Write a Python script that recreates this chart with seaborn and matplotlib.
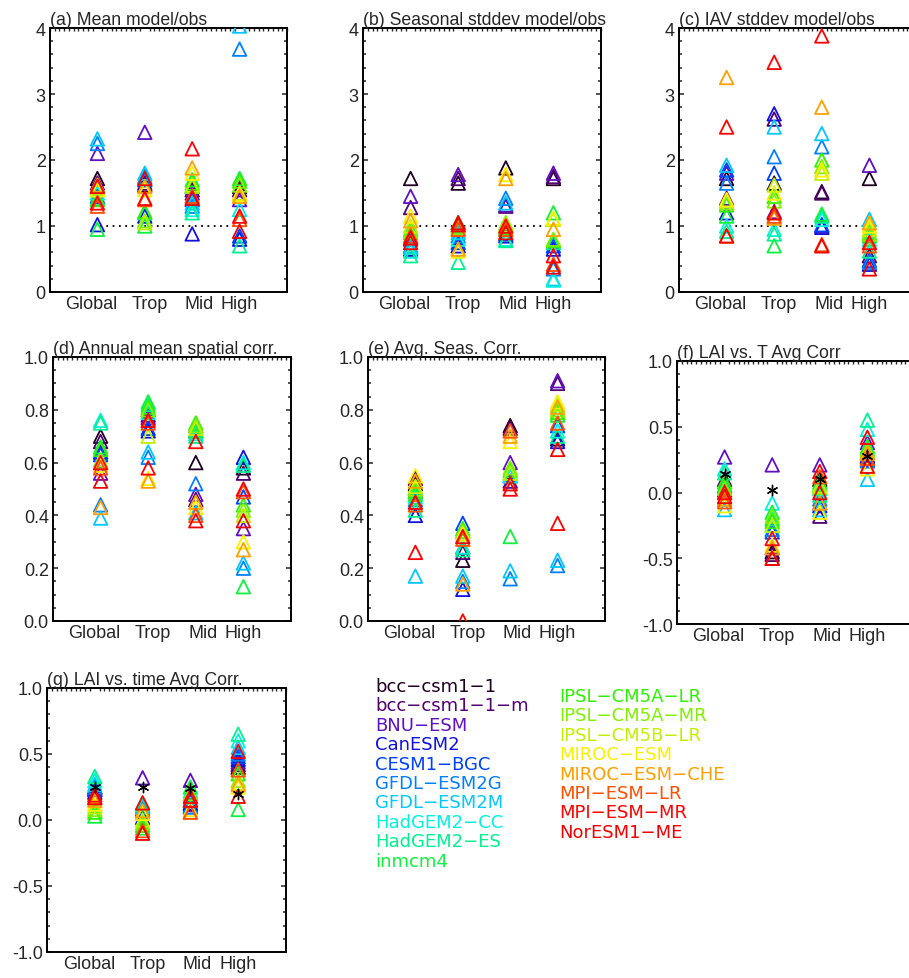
import numpy as np
import pandas as pd
import matplotlib
matplotlib.use("Agg")
import matplotlib.pyplot as plt
from matplotlib.ticker import MultipleLocator, FixedLocator, NullFormatter
from matplotlib.transforms import ScaledTranslation
import seaborn as sns

MODELS = ["bcc-csm1-1", "bcc-csm1-1-m", "BNU-ESM", "CanESM2", "CESM1-BGC",
          "GFDL-ESM2G", "GFDL-ESM2M", "HadGEM2-CC", "HadGEM2-ES", "inmcm4",
          "IPSL-CM5A-LR", "IPSL-CM5A-MR", "IPSL-CM5B-LR", "MIROC-ESM",
          "MIROC-ESM-CHE", "MPI-ESM-LR", "MPI-ESM-MR", "NorESM1-ME"]
MODEL_COLORS = ["#200020", "#500070", "#6010c0", "#1010e0", "#0040ff",
                "#0080ff", "#00c8ff", "#00f0e0", "#00f090", "#10f040",
                "#30f000", "#80f000", "#c0f000", "#f8f000", "#ffa000",
                "#ff5000", "#ff0000", "#f00000"]
REGIONS = ["Global", "Trop", "Mid", "High"]

# one value per model (MODELS order) for each region
MEAN_RATIO = {
    "Global": [1.72, 1.65, 2.1, 1.02, 1.45, 2.25, 2.32, 1.5, 1.42, 0.95, 1.4, 1.55, 1.58, 1.55, 1.62, 1.3, 1.35, 1.6],
    "Trop": [1.62, 1.65, 2.42, 1.15, 1.7, 1.75, 1.8, 1.72, 1.2, 1.0, 1.22, 1.08, 1.05, 1.55, 1.6, 1.4, 1.42, 1.72],
    "Mid": [1.6, 1.55, 1.5, 0.88, 1.4, 1.3, 1.35, 1.25, 1.2, 1.7, 1.65, 1.6, 1.62, 1.8, 1.88, 1.45, 2.17, 1.42],
    "High": [1.6, 1.55, 1.4, 0.8, 0.85, 3.68, 4.03, 1.25, 0.7, 1.72, 1.68, 1.62, 1.5, 1.48, 1.45, 1.1, 1.15, 0.92],
}
SEAS_STD_RATIO = {
    "Global": [1.72, 1.28, 1.45, 0.65, 0.8, 0.7, 0.68, 0.62, 0.55, 0.9, 0.95, 0.92, 1.0, 1.15, 1.08, 0.85, 0.75, 0.82],
    "Trop": [1.65, 1.72, 1.78, 0.7, 0.75, 0.85, 0.9, 0.8, 0.45, 1.05, 1.0, 0.98, 0.95, 0.62, 0.65, 0.95, 1.02, 1.05],
    "Mid": [1.88, 1.3, 1.32, 0.85, 0.88, 1.42, 1.35, 0.8, 0.78, 0.95, 0.98, 1.05, 1.02, 1.78, 1.72, 0.95, 1.0, 0.9],
    "High": [1.72, 1.75, 1.8, 0.65, 0.7, 0.35, 0.2, 0.18, 0.75, 1.2, 0.78, 0.8, 1.1, 1.12, 0.95, 0.42, 0.55, 0.38],
}
IAV_STD_RATIO = {
    "Global": [1.72, 1.42, 1.8, 1.2, 1.85, 1.65, 1.92, 1.0, 0.92, 1.15, 1.32, 1.35, 1.38, 1.4, 3.25, 0.85, 2.5, 0.85],
    "Trop": [1.65, 2.62, 1.22, 2.7, 1.8, 2.05, 2.5, 0.95, 0.88, 0.7, 1.45, 1.38, 1.62, 1.5, 1.12, 1.15, 3.48, 1.2],
    "Mid": [1.52, 1.5, 1.0, 0.98, 1.02, 2.2, 2.4, 1.1, 1.15, 1.18, 2.0, 1.9, 1.8, 1.85, 2.8, 0.72, 3.88, 0.7],
    "High": [1.72, 0.55, 1.92, 0.42, 0.48, 0.45, 1.1, 0.8, 0.62, 0.85, 0.9, 0.88, 0.95, 1.0, 1.05, 0.7, 0.75, 0.35],
}
SPATIAL_CORR = {
    "Global": [0.7, 0.68, 0.56, 0.64, 0.63, 0.44, 0.39, 0.76, 0.75, 0.66, 0.65, 0.61, 0.6, 0.59, 0.43, 0.58, 0.6, 0.53],
    "Trop": [0.8, 0.78, 0.77, 0.72, 0.73, 0.62, 0.64, 0.79, 0.82, 0.83, 0.81, 0.8, 0.7, 0.54, 0.53, 0.75, 0.58, 0.76],
    "Mid": [0.6, 0.46, 0.48, 0.72, 0.74, 0.52, 0.41, 0.71, 0.7, 0.72, 0.75, 0.74, 0.73, 0.43, 0.45, 0.4, 0.68, 0.38],
    "High": [0.58, 0.56, 0.35, 0.62, 0.47, 0.2, 0.22, 0.6, 0.59, 0.13, 0.44, 0.42, 0.4, 0.3, 0.27, 0.49, 0.5, 0.38],
}
SEAS_CORR = {
    "Global": [0.52, 0.54, 0.5, 0.4, 0.49, 0.46, 0.17, 0.47, 0.42, 0.48, 0.49, 0.5, 0.51, 0.55, 0.53, 0.44, 0.26, 0.45],
    "Trop": [0.23, 0.26, 0.28, 0.12, 0.37, 0.15, 0.17, 0.28, 0.27, 0.34, 0.35, 0.34, 0.33, 0.33, 0.14, 0.31, 0.0, 0.32],
    "Mid": [0.74, 0.73, 0.6, 0.53, 0.55, 0.16, 0.19, 0.55, 0.56, 0.32, 0.57, 0.58, 0.56, 0.68, 0.7, 0.72, 0.5, 0.52],
    "High": [0.69, 0.9, 0.91, 0.68, 0.74, 0.21, 0.23, 0.72, 0.7, 0.78, 0.79, 0.8, 0.82, 0.83, 0.81, 0.75, 0.37, 0.65],
}
LAI_T_CORR = {
    "Global": [0.05, 0.1, 0.27, 0.02, 0.0, -0.05, -0.13, 0.18, 0.15, 0.05, 0.08, 0.03, 0.0, -0.1, -0.05, -0.07, 0.0, -0.03],
    "Trop": [-0.45, -0.47, 0.21, -0.42, -0.3, -0.28, -0.25, -0.08, -0.2, -0.15, -0.22, -0.18, -0.25, -0.4, -0.42, -0.5, -0.35, -0.5],
    "Mid": [0.1, -0.18, 0.21, -0.1, -0.08, -0.05, -0.13, 0.03, -0.02, 0.08, 0.06, 0.04, 0.05, -0.15, -0.08, 0.12, 0.16, 0.0],
    "High": [0.27, 0.3, 0.38, 0.28, 0.25, 0.24, 0.1, 0.48, 0.55, 0.35, 0.33, 0.32, 0.3, 0.18, 0.3, 0.26, 0.42, 0.2],
}
LAI_T_CORR_MEAN = [0.14, 0.02, 0.1, 0.28]
LAI_TIME_CORR = {
    "Global": [0.25, 0.24, 0.23, 0.21, 0.23, 0.25, 0.27, 0.3, 0.33, 0.03, 0.06, 0.08, 0.1, 0.12, 0.15, 0.17, 0.19, 0.17],
    "Trop": [0.1, 0.08, 0.32, 0.02, 0.05, 0.07, 0.1, 0.13, 0.12, -0.06, -0.04, -0.02, 0.0, 0.05, 0.07, -0.08, 0.13, -0.1],
    "Mid": [0.15, 0.12, 0.3, 0.13, 0.1, 0.1, 0.17, 0.22, 0.15, 0.25, 0.2, 0.2, 0.18, 0.08, 0.06, 0.06, 0.18, 0.15],
    "High": [0.4, 0.42, 0.44, 0.46, 0.48, 0.5, 0.55, 0.6, 0.65, 0.08, 0.35, 0.3, 0.28, 0.25, 0.27, 0.38, 0.52, 0.18],
}
LAI_TIME_CORR_MEAN = [0.25, 0.25, 0.24, 0.2]
RATIO_REF = 1.0

W, H = 909, 979
LABEL_SHIFT_PX = [-6, 5, 7, 0]

sns.set_style("ticks")
plt.rcParams["font.family"] = ["Liberation Sans", "DejaVu Sans"]


def to_long(table):
    rows = []
    for i, reg in enumerate(REGIONS):
        for m, v in zip(MODELS, table[reg]):
            rows.append({"pos": i + 1, "model": m, "value": v})
    return pd.DataFrame(rows)


def draw_panel(fig, rect_px, title, table, ylim, major, minor, fmt,
               ref=None, means=None):
    left, top, right, bottom = rect_px
    ax = fig.add_axes([left / W, 1 - bottom / H, (right - left) / W, (bottom - top) / H])
    df = to_long(table)
    sns.scatterplot(data=df, x="pos", y="value", hue="model", hue_order=MODELS,
                    palette=dict(zip(MODELS, MODEL_COLORS)), marker="^", s=95,
                    legend=False, ax=ax, zorder=3)
    coll = ax.collections[-1]
    fc = coll.get_facecolors()
    coll.set_edgecolors(fc)
    coll.set_facecolors("none")
    coll.set_linewidths(1.3)
    if ref is not None:
        ax.hlines(ref, 1.05, 4.15, colors="black", linestyles=(0, (1, 2.5)), lw=1.3, zorder=2)
    if means is not None:
        mdf = pd.DataFrame({"pos": np.arange(1, 5), "value": means})
        sns.scatterplot(data=mdf, x="pos", y="value", marker=(6, 2, 0), s=55,
                        color="black", linewidth=1.0, ax=ax, zorder=4)
    ax.set_xlim(0, 5)
    ax.set_ylim(*ylim)
    ax.xaxis.set_major_locator(FixedLocator([1, 2, 3, 4]))
    ax.xaxis.set_major_formatter(NullFormatter())
    # region names, nudged sideways like the original IDL layout
    base = ax.get_xaxis_transform()
    for i, (reg, dx) in enumerate(zip(REGIONS, LABEL_SHIFT_PX)):
        tr = base + ScaledTranslation(dx / 100, -3 / 100, fig.dpi_scale_trans)
        ax.text(i + 1, 0, reg, transform=tr, ha="center", va="top", fontsize=13)
    ax.xaxis.set_minor_locator(MultipleLocator(0.1))
    ax.yaxis.set_major_locator(MultipleLocator(major))
    ax.yaxis.set_minor_locator(MultipleLocator(minor))
    ticks = ax.get_yticks()
    ticks = [t for t in ticks if ylim[0] - 1e-9 <= t <= ylim[1] + 1e-9]
    ax.set_yticks(ticks)
    ax.set_yticklabels([fmt.format(t) for t in ticks], fontsize=13)
    ax.tick_params(axis="y", which="both", direction="in", left=True, right=True, width=1.1)
    ax.tick_params(axis="y", which="major", length=3.6, pad=3)
    ax.tick_params(axis="y", which="minor", length=2)
    ax.tick_params(axis="x", which="major", bottom=False, top=False)
    ax.tick_params(axis="x", which="minor", bottom=False, top=True, direction="in",
                   length=2, width=1.0)
    ax.set_xlabel("")
    ax.set_ylabel("")
    for sp in ax.spines.values():
        sp.set_linewidth(1.4)
        sp.set_color("black")
    ax.set_title(title, loc="left", fontsize=12.7, pad=3)
    return ax


def main():
    fig = plt.figure(figsize=(W / 100, H / 100), dpi=100)

    draw_panel(fig, (50, 29, 287, 293), "(a) Mean model/obs", MEAN_RATIO,
               (0, 4), 1, 0.2, "{:.0f}", ref=RATIO_REF)
    draw_panel(fig, (363, 29, 601, 293), "(b) Seasonal stddev model/obs", SEAS_STD_RATIO,
               (0, 4), 1, 0.2, "{:.0f}", ref=RATIO_REF)
    draw_panel(fig, (679, 29, 917, 293), "(c) IAV stddev model/obs", IAV_STD_RATIO,
               (0, 4), 1, 0.2, "{:.0f}", ref=RATIO_REF)
    draw_panel(fig, (53, 358, 291, 622), "(d) Annual mean spatial corr.", SPATIAL_CORR,
               (0, 1), 0.2, 0.05, "{:.1f}")
    draw_panel(fig, (368, 358, 605, 622), "(e) Avg. Seas. Corr.", SEAS_CORR,
               (0, 1), 0.2, 0.05, "{:.1f}")
    draw_panel(fig, (677, 362, 915, 625), "(f) LAI vs. T Avg Corr", LAI_T_CORR,
               (-1, 1), 0.5, 0.1, "{:.1f}", means=LAI_T_CORR_MEAN)
    draw_panel(fig, (47, 689, 286, 953), "(g) LAI vs. time Avg Corr.", LAI_TIME_CORR,
               (-1, 1), 0.5, 0.1, "{:.1f}", means=LAI_TIME_CORR_MEAN)

    # model legend as coloured text in two columns
    split = 10
    for i, (name, col) in enumerate(zip(MODELS, MODEL_COLORS)):
        if i < split:
            x, y = 375, 687 + i * 19.4
        else:
            x, y = 559, 697 + (i - split) * 19.4
        fig.text(x / W, 1 - y / H, name.replace("-", "\u2212"), color=col,
                 fontsize=13, family="DejaVu Sans", va="center", ha="left")

    fig.savefig("out.png", dpi=100)
    plt.close(fig)


if __name__ == "__main__":
    main()
